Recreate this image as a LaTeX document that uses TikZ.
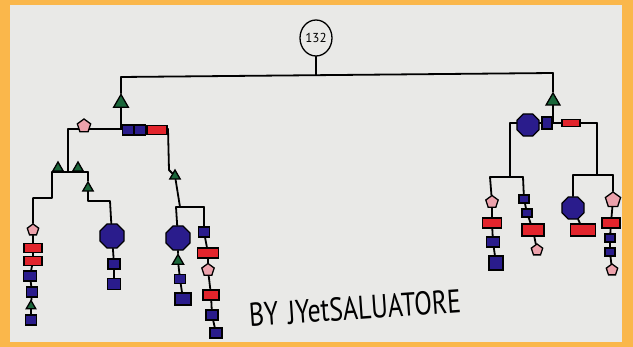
\documentclass[tikz,border=0pt]{standalone}
\usepackage{fontspec}
\setsansfont{PT Sans}
\usepackage{xcolor}
\usepackage{tikz}
\usetikzlibrary{positioning, shapes.geometric}

\definecolor{frameorange}{RGB}{250,183,75}
\definecolor{paper}{RGB}{233,233,231}
\definecolor{glcblue}{RGB}{42,28,140}
\definecolor{glcred}{RGB}{226,36,44}
\definecolor{glcpink}{RGB}{236,162,172}
\definecolor{glcgreen}{RGB}{26,102,58}

\pgfdeclarelayer{background}
\pgfsetlayers{background,main}

\begin{document}
\begin{tikzpicture}[
  x=1pt, y=-1pt,
  every node/.style={draw, line width=1.3pt, inner sep=0pt},
  bsq/.style={fill=glcblue, minimum width=11pt, minimum height=10pt},
  rrect/.style={fill=glcred, minimum width=18pt, minimum height=9pt},
  ppent/.style={regular polygon, regular polygon sides=5, fill=glcpink, minimum size=14pt},
  gtri/.style={regular polygon, regular polygon sides=3, fill=glcgreen, minimum size=12pt},
  boct/.style={regular polygon, regular polygon sides=8, fill=glcblue, minimum size=26pt},
  link/.style={line width=1.8pt, line cap=round, line join=round}
]
\useasboundingbox (0,0) rectangle (633,347);

% Root Node
\node[ellipse, fill=paper, minimum width=32pt, minimum height=36pt,
  font=\fontsize{13}{13}\sffamily] (root) at (316,38) {132};
\coordinate (topmid) at (316,75);
\coordinate (topL) at (121,77);
\coordinate (topR) at (553,73);

% Left arm
\node[gtri, minimum size=17pt] (ltri) at (121,103) {};
\coordinate (lj) at (121,129);
\coordinate (la) at (68,129);
\coordinate (lb) at (168,129);
\node[ppent] (lpent) at (84,126) {};
\node[bsq] (lsq1) at (128,130) {};
\node[bsq] (lsq2) at (140,130) {};
\node[rrect, minimum width=20pt] (lred) at (157,130) {};

% Left arm, first part
\coordinate (la1) at (68,172);
\coordinate (laL) at (52,172);
\coordinate (laR) at (88,172);
\node[gtri] (lat1) at (58,168) {};
\node[gtri] (lat2) at (78,168) {};
\node[gtri] (lat3) at (88,188) {};
\coordinate (la2) at (52,198);
\coordinate (la3) at (33,198);
\coordinate (la4) at (88,201);
\coordinate (la5) at (110,201);

\node[ppent, minimum size=12pt] (l1n1) at (33,230) {};
\node[rrect] (l1n2) at (33,248) {};
\node[rrect] (l1n3) at (33,261) {};
\node[bsq, minimum width=13pt] (l1n4) at (30,276) {};
\node[bsq] (l1n5) at (32,292) {};
\node[gtri, minimum size=11pt] (l1n6) at (31,306) {};
\node[bsq] (l1n7) at (31,320) {};

\node[boct] (l2n1) at (112,236) {};
\node[bsq, minimum width=12pt] (l2n2) at (114,264) {};
\node[bsq, minimum width=13pt, minimum height=11pt] (l2n3) at (114,284) {};

% Left arm, second part
\coordinate (lb1) at (169,170);
\node[gtri] (lbt) at (175,176) {};
\coordinate (lb2) at (180,207);
\coordinate (lbL) at (176,207);
\coordinate (lbR) at (204,207);

\node[boct] (l3n1) at (178,238) {};
\node[gtri, minimum size=13pt] (l3n2) at (178,261) {};
\node[bsq, minimum height=9pt] (l3n3) at (180,279) {};
\node[bsq, minimum width=16pt, minimum height=12pt] (l3n4) at (183,299) {};

\node[bsq] (l4n1) at (204,232) {};
\node[rrect, minimum width=21pt, minimum height=10pt] (l4n2) at (208,253) {};
\node[ppent, minimum size=13pt] (l4n3) at (208,270) {};
\node[rrect, minimum width=16pt, minimum height=10pt] (l4n4) at (211,295) {};
\node[bsq, minimum width=12pt] (l4n5) at (212,315) {};
\node[bsq, minimum width=12pt] (l4n6) at (216,333) {};

% Right arm
\node[gtri, minimum size=16pt] (rtri) at (553,101) {};
\coordinate (rj) at (553,123);
\coordinate (raL) at (510,123);
\coordinate (raR) at (597,123);
\node[boct, minimum size=24pt] (roct) at (528,125) {};
\node[bsq, minimum width=10pt, minimum height=12pt] (rsq) at (547,123) {};
\node[rrect, minimum height=7pt] (rred) at (571,123) {};

\coordinate (ra1) at (510,177);
\coordinate (rlL) at (490,177);
\coordinate (rlR) at (523,177);
\coordinate (ra2) at (597,175);
\coordinate (rrL) at (573,175);
\coordinate (rrR) at (613,175);

\node[ppent, minimum size=13pt] (r1n1) at (492,202) {};
\node[rrect, minimum width=19pt, minimum height=10pt] (r1n2) at (492,223) {};
\node[bsq, minimum width=13pt] (r1n3) at (493,242) {};
\node[bsq, minimum width=14pt, minimum height=14pt] (r1n4) at (496,263) {};

\node[bsq, minimum width=10pt, minimum height=8pt] (r2n1) at (524,199) {};
\node[bsq, minimum width=10pt, minimum height=8pt] (r2n2) at (527,213) {};
\node[rrect, minimum width=22pt, minimum height=12pt] (r2n3) at (533,230) {};
\node[ppent, minimum size=12pt] (r2n4) at (537,250) {};

\node[boct, minimum size=24pt] (r3n1) at (573,208) {};
\node[rrect, minimum width=25pt, minimum height=12pt] (r3n2) at (583,230) {};

\node[ppent, minimum size=16pt] (r4n1) at (613,200) {};
\node[rrect, minimum width=18pt, minimum height=10pt] (r4n2) at (611,223) {};
\node[bsq, minimum width=10pt, minimum height=8pt] (r4n3) at (610,238) {};
\node[bsq, minimum width=10pt, minimum height=8pt] (r4n4) at (610,252) {};
\node[ppent, minimum size=12pt] (r4n5) at (612,270) {};

% Signature
\node[draw=none, rotate=4, font=\fontsize{33}{33}\sffamily, xscale=0.78]
  (sig) at (355,308) {BY\hspace{12pt}JYetSALUATORE};

% Lines
\begin{pgfonlayer}{background}
\fill[frameorange] (0,0) rectangle (633,347);
\fill[paper] (10,5) rectangle (622,342);

\draw[link] (root) -- (topmid);
\draw[link] (topL) -- (topR);

\draw[link] (topL) -- (ltri) -- (lj);
\draw[link] (la) -- (lb);
\draw[link] (la) -- (la1);
\draw[link] (laL) -- (laR);
\draw[link] (laL) -- (la2) -- (la3) -- (l1n1) -- (l1n2) -- (l1n3) -- (l1n4)
  -- (l1n5) -- (l1n6) -- (l1n7);
\draw[link] (laR) -- (lat3) -- (la4) -- (la5) -- (l2n1) -- (l2n2) -- (l2n3);
\draw[link] (lb) -- (lb1) -- (lbt) -- (lb2);
\draw[link] (lbL) -- (lbR);
\draw[link] (lbL) -- (l3n1) -- (l3n2) -- (l3n3) -- (l3n4);
\draw[link] (lbR) -- (l4n1) -- (l4n2) -- (l4n3) -- (l4n4) -- (l4n5) -- (l4n6);

\draw[link] (topR) -- (rtri) -- (rj);
\draw[link] (raL) -- (raR);
\draw[link] (raL) -- (ra1);
\draw[link] (rlL) -- (rlR);
\draw[link] (rlL) -- (r1n1) -- (r1n2) -- (r1n3) -- (r1n4);
\draw[link] (rlR) -- (r2n1) -- (r2n2) -- (r2n3) -- (r2n4);
\draw[link] (raR) -- (ra2);
\draw[link] (rrL) -- (rrR);
\draw[link] (rrL) -- (r3n1) -- (r3n2);
\draw[link] (rrR) -- (r4n1) -- (r4n2) -- (r4n3) -- (r4n4) -- (r4n5);
\end{pgfonlayer}

\end{tikzpicture}
\end{document}
